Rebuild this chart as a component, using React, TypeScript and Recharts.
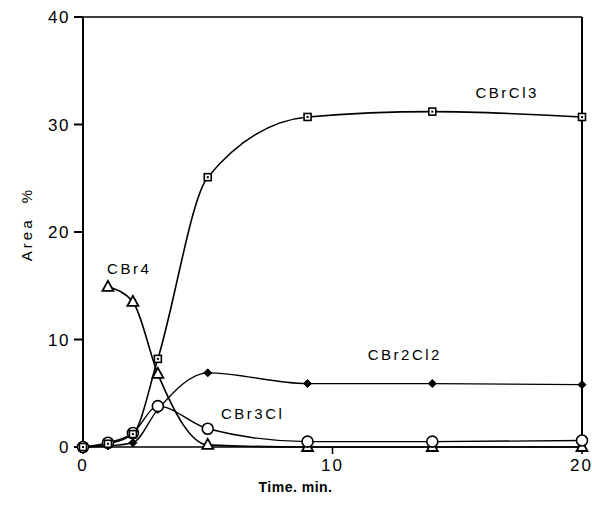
import React from "react";
import {
  LineChart,
  Line,
  XAxis,
  YAxis,
  ReferenceDot,
  ReferenceLine,
} from "recharts";

const times = [0, 1, 2, 3, 5, 9, 14, 20];
const cbrcl3 = [0, 0.3, 1.2, 8.2, 25.1, 30.7, 31.2, 30.7];
const cbr2cl2 = [0, 0.1, 0.4, 3.5, 6.9, 5.9, 5.9, 5.8];
const cbr3cl = [0, 0.4, 1.3, 3.8, 1.7, 0.5, 0.5, 0.6];
const cbr4 = [null, 14.9, 13.5, 6.8, 0.2, 0, 0, 0];

const xTicks = [0, 10, 20];
const yTicks = [0, 10, 20, 30, 40];

const seriesLabels = [
  { text: "CBrCl3", x: 17.0, y: 33.0 },
  { text: "CBr2Cl2", x: 12.9, y: 8.6 },
  { text: "CBr3Cl", x: 6.8, y: 3.1 },
  { text: "CBr4", x: 1.85, y: 16.6 },
];

const data = times.map((t, i) => ({
  t,
  cbrcl3: cbrcl3[i],
  cbr2cl2: cbr2cl2[i],
  cbr3cl: cbr3cl[i],
  cbr4: cbr4[i],
}));

const FONT = "'Liberation Sans', Arial, sans-serif";

const SquareDot = (p: any) => {
  if (p.value == null || p.cx == null) return <g key={p.key} />;
  return (
    <g key={p.key}>
      <rect x={p.cx - 3.5} y={p.cy - 3.5} width={7} height={7} fill="#fff" stroke="#000" strokeWidth={1.6} />
      <rect x={p.cx - 1} y={p.cy - 1} width={2} height={2} fill="#000" />
    </g>
  );
};
const DiamondDot = (p: any) => {
  if (p.value == null || p.cx == null) return <g key={p.key} />;
  const { cx, cy } = p;
  return (
    <path key={p.key} d={`M${cx},${cy - 4} L${cx + 4},${cy} L${cx},${cy + 4} L${cx - 4},${cy} Z`} fill="#000" stroke="#000" />
  );
};
const CircleDot = (p: any) => {
  if (p.value == null || p.cx == null) return <g key={p.key} />;
  return <circle key={p.key} cx={p.cx} cy={p.cy} r={5.5} fill="#fff" stroke="#000" strokeWidth={1.6} />;
};
const TriangleDot = (p: any) => {
  if (p.value == null || p.cx == null) return <g key={p.key} />;
  const { cx, cy } = p;
  return (
    <path key={p.key} d={`M${cx},${cy - 6} L${cx + 5.5},${cy + 4} L${cx - 5.5},${cy + 4} Z`} fill="#fff" stroke="#000" strokeWidth={1.8} />
  );
};

const AreaLabel = (props: any) => {
  const vb = props.viewBox || {};
  const x = (vb.x ?? 0) + 26;
  const y = (vb.y ?? 0) + (vb.height ?? 0) / 2 - 8;
  return (
    <text
      x={x}
      y={y}
      transform={`rotate(-90, ${x}, ${y})`}
      textAnchor="middle"
      dominantBaseline="central"
      fill="#000"
      fontSize={15}
      fontFamily={FONT}
      letterSpacing={3}
      style={{ whiteSpace: "pre" }}
    >
      {"Area  %"}
    </text>
  );
};

export default function App() {
  return (
    <div style={{ position: "absolute", left: 0, top: 0, width: 592, height: 515, background: "#fff" }}>
      <LineChart
        width={592}
        height={515}
        data={data}
        margin={{ top: 17, right: 10, bottom: 38, left: 0 }}
      >
        <XAxis
          dataKey="t"
          type="number"
          domain={[0, 20]}
          ticks={xTicks}
          xAxisId="b"
          height={30}
          tickSize={7}
          tickMargin={5}
          stroke="#000"
          strokeWidth={1.6}
          tick={{ fill: "#000", fontSize: 17, fontFamily: FONT, letterSpacing: 2 }}
          label={{ value: "Time. min.", position: "insideBottom", offset: -15, dx: -37, fill: "#000", fontSize: 14, fontWeight: "bold", fontFamily: FONT, letterSpacing: 0.5 }}
        />
        <YAxis
          yAxisId="l"
          type="number"
          domain={[0, 40]}
          ticks={yTicks}
          width={83}
          tickSize={9}
          tickMargin={4}
          stroke="#000"
          strokeWidth={2}
          tick={{ fill: "#000", fontSize: 17, fontFamily: FONT, letterSpacing: 1.5 }}
          label={<AreaLabel />}
        />
        <ReferenceLine xAxisId="b" yAxisId="l" x={20} stroke="#000" strokeWidth={2} ifOverflow="visible" />
        <ReferenceLine xAxisId="b" yAxisId="l" y={40} stroke="#000" strokeWidth={1.6} ifOverflow="visible" />
        <Line xAxisId="b" yAxisId="l" type="monotone" dataKey="cbr4" stroke="#000" strokeWidth={1.6} dot={<TriangleDot />} isAnimationActive={false} connectNulls={false} />
        <Line xAxisId="b" yAxisId="l" type="monotone" dataKey="cbr2cl2" stroke="#000" strokeWidth={1.4} dot={<DiamondDot />} isAnimationActive={false} />
        <Line xAxisId="b" yAxisId="l" type="monotone" dataKey="cbr3cl" stroke="#000" strokeWidth={1.4} dot={<CircleDot />} isAnimationActive={false} />
        <Line xAxisId="b" yAxisId="l" type="monotone" dataKey="cbrcl3" stroke="#000" strokeWidth={1.6} dot={<SquareDot />} isAnimationActive={false} />
        {seriesLabels.map((l) => (
          <ReferenceDot
            key={l.text}
            xAxisId="b"
            yAxisId="l"
            x={l.x}
            y={l.y}
            r={0}
            fill="none"
            stroke="none"
            label={{ value: l.text, position: "center", fill: "#000", fontSize: 15, fontFamily: FONT, letterSpacing: 2.5 }}
          />
        ))}
      </LineChart>
    </div>
  );
}
